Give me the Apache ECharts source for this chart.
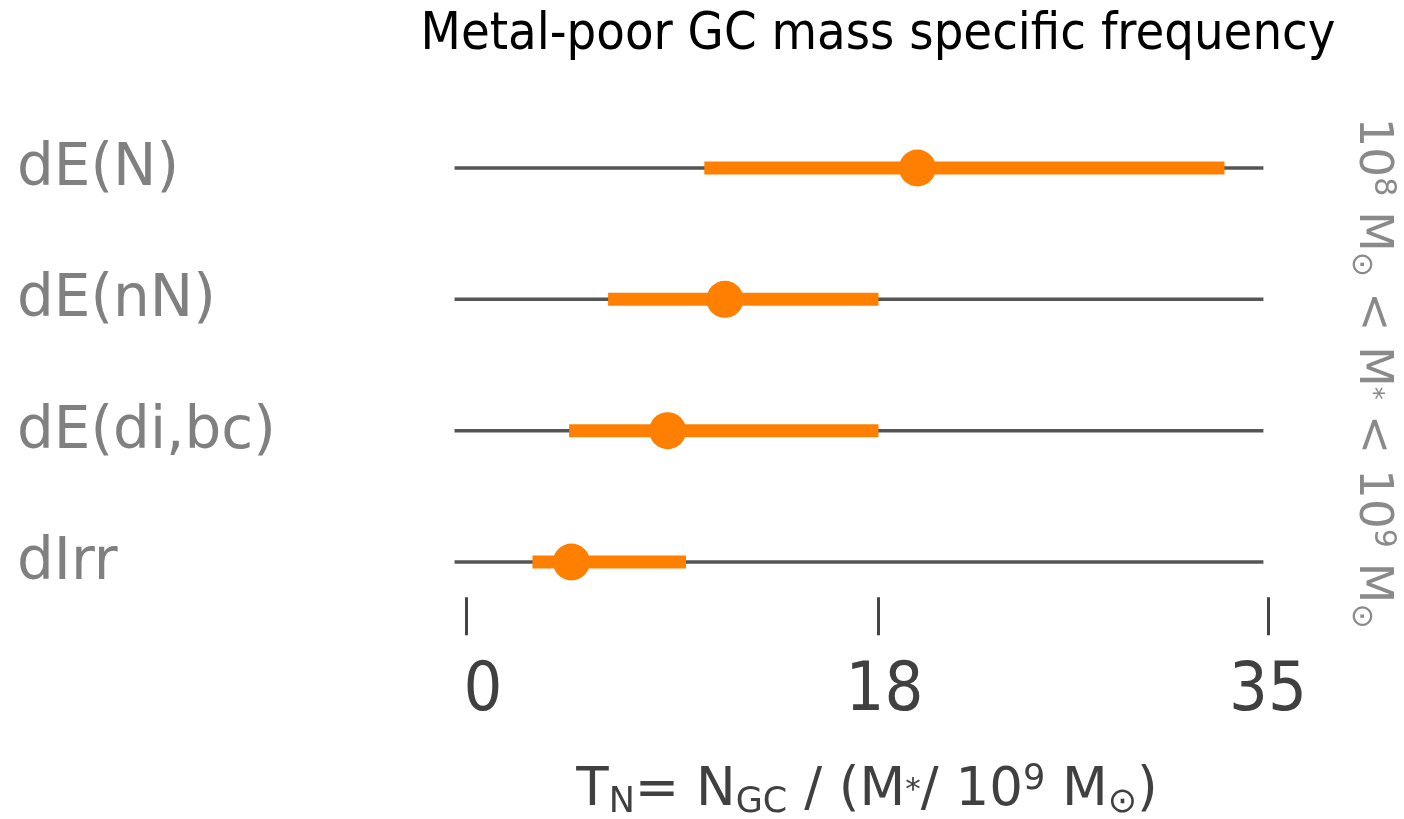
<!DOCTYPE html>
<html>
<head>
<meta charset="utf-8">
<title>Metal-poor GC mass specific frequency</title>
<script src="https://cdn.jsdelivr.net/npm/echarts@6/dist/echarts.min.js"></script>
<style>
  html, body { margin: 0; padding: 0; background: #ffffff; }
  #chart { width: 1404px; height: 819px; }
</style>
</head>
<body>
<div id="chart"></div>
<script>
// Galaxy classes, top to bottom
const categories = ['dE(N)', 'dE(nN)', 'dE(di,bc)', 'dIrr'];
// T_N of metal-poor GCs: lower bound, upper bound, central value
const tnLow = [10.4, 6.2, 4.5, 2.9];
const tnHigh = [33.1, 18.0, 18.0, 9.6];
const tnCentral = [19.7, 11.3, 8.8, 4.6];
// Axis range and tick labels
const axisMin = 0;
const axisMax = 35;
const tickValues = [0, 18, 35];
// Extent of the thin grey guide drawn behind each row
const guideFrom = -0.5;
const guideTo = 34.8;

const ORANGE = '#ff7f00';
const FONT = '"DejaVu Sans", sans-serif';
const FONT_COND = '"DejaVu Sans Condensed", "Liberation Sans Narrow", "DejaVu Sans", sans-serif';

const guideData = categories.map((c, i) => [guideFrom, guideTo, i]);
const rangeData = categories.map((c, i) => [tnLow[i], tnHigh[i], i]);
const centralData = categories.map((c, i) => [tnCentral[i], i]);

function hLine(params, api, thickness, color) {
  const a = api.coord([api.value(0), api.value(2)]);
  const b = api.coord([api.value(1), api.value(2)]);
  return {
    type: 'rect',
    shape: { x: a[0], y: a[1] - thickness / 2, width: b[0] - a[0], height: thickness },
    style: { fill: color }
  };
}

const chart = echarts.init(document.getElementById('chart'), null, { renderer: 'canvas' });

chart.setOption({
  animation: false,
  backgroundColor: '#ffffff',
  grid: { left: 466, right: 136, top: 102.3, height: 525.4, outerBoundsMode: 'none', containLabel: false },
  xAxis: {
    type: 'value',
    min: axisMin,
    max: axisMax,
    offset: 7.5,
    axisLine: { show: false },
    splitLine: { show: false },
    axisTick: {
      show: true,
      inside: true,
      length: 38,
      customValues: tickValues,
      lineStyle: { color: '#444444', width: 3 }
    },
    axisLabel: {
      customValues: tickValues,
      margin: 23,
      color: '#404040',
      fontFamily: FONT_COND,
      fontSize: 68,
      formatter: v => (v === 0 ? '{z|0}' : (v === 18 ? '{e|18}' : String(v))),
      rich: {
        z: { padding: [0, 0, 0, 34], fontFamily: FONT_COND, fontSize: 68, color: '#404040' },
        e: { padding: [0, 0, 0, 12], fontFamily: FONT_COND, fontSize: 68, color: '#404040' }
      }
    },
    name: '{t|T}{sub|N}{t|= N}{sub|GC}{t| / (M}{st|*}{t|/ 10}{sup|9}{t| M}{sub|⊙}{t|)}',
    nameLocation: 'middle',
    nameGap: 127,
    nameTextStyle: {
      color: '#404040',
      rich: {
        t: { fontFamily: FONT, fontSize: 53, color: '#404040', lineHeight: 58 },
        sub: { fontFamily: FONT, fontSize: 35, color: '#404040', verticalAlign: 'bottom', lineHeight: 35 },
        sup: { fontFamily: FONT, fontSize: 35, color: '#404040', verticalAlign: 'top', lineHeight: 35 },
        st: { fontFamily: FONT, fontSize: 31, color: '#404040', lineHeight: 48 }
      }
    }
  },
  yAxis: {
    type: 'category',
    data: categories,
    inverse: true,
    axisLine: { show: false },
    axisTick: { show: false },
    splitLine: { show: false },
    axisLabel: {
      align: 'left',
      margin: 449,
      color: '#808080',
      fontFamily: FONT,
      fontSize: 58,
      formatter: v => '{c|' + v + '}',
      rich: { c: { fontFamily: FONT, fontSize: 58, color: '#808080', padding: [4, 0, 0, 0] } }
    }
  },
  graphic: [
    {
      type: 'text',
      x: 878,
      y: 35,
      style: {
        text: 'Metal-poor GC mass specific frequency',
        fill: '#000000',
        font: '52px ' + FONT_COND,
        textAlign: 'center',
        textVerticalAlign: 'middle'
      }
    },
    {
      type: 'text',
      x: 1372,
      y: 373,
      rotation: -Math.PI / 2,
      style: {
        text: '{t|10}{sup|8}{t| M}{sub|⊙}{t| < M}{st|*}{t| < 10}{sup|9}{t| M}{sub|⊙}',
        textAlign: 'center',
        textVerticalAlign: 'middle',
        rich: {
          t: { fontFamily: FONT, fontSize: 47, fill: '#8a8a8a', lineHeight: 52 },
          sup: { fontFamily: FONT, fontSize: 30, fill: '#8a8a8a', verticalAlign: 'top', lineHeight: 30 },
          sub: { fontFamily: FONT, fontSize: 30, fill: '#8a8a8a', verticalAlign: 'bottom', lineHeight: 30 },
          st: { fontFamily: FONT, fontSize: 26, fill: '#8a8a8a', lineHeight: 42 }
        }
      }
    }
  ],
  series: [
    {
      type: 'custom',
      name: 'guide',
      data: guideData,
      encode: { x: [0, 1], y: 2 },
      clip: false,
      silent: true,
      renderItem: (params, api) => hLine(params, api, 3.5, '#555555'),
      z: 1
    },
    {
      type: 'custom',
      name: 'range',
      data: rangeData,
      encode: { x: [0, 1], y: 2 },
      renderItem: (params, api) => hLine(params, api, 13, ORANGE),
      z: 2
    },
    {
      type: 'scatter',
      name: 'central',
      data: centralData,
      symbol: 'circle',
      symbolSize: 37,
      itemStyle: { color: ORANGE, opacity: 1 },
      z: 3
    }
  ]
});
</script>
</body>
</html>
